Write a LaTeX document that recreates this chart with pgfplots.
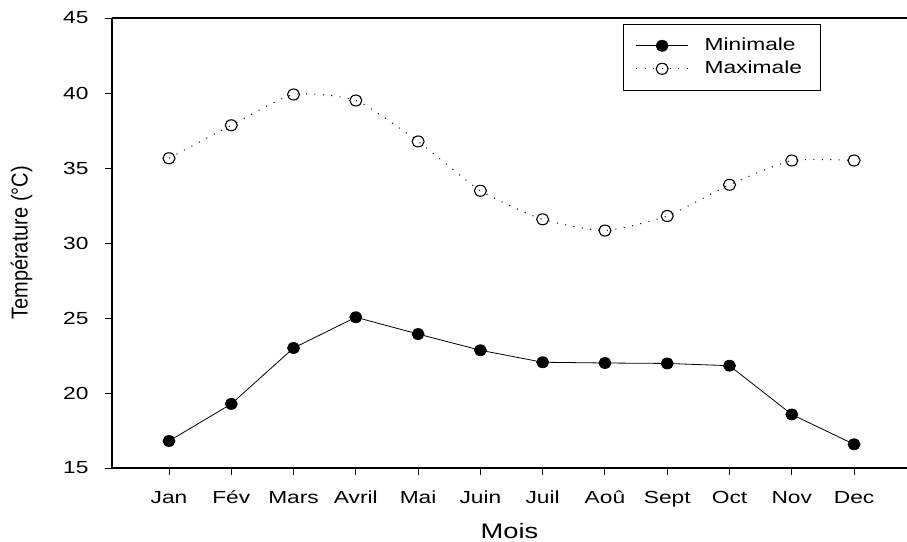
\documentclass[border=0pt]{standalone}
\usepackage{fontspec}
\setmainfont{Liberation Sans}
\newfontfamily\hf[FakeStretch=1.3]{Liberation Sans}
\usepackage{pgfplots}
\pgfplotsset{compat=1.18}
\begin{document}
\begin{tikzpicture}[x=1bp,y=1bp]
\begin{axis}[
  at={(0,0)}, anchor=south west,
  scale only axis, width=795bp, height=450bp,
  xmin=-0.915, xmax=11.85, ymin=15, ymax=45,
  axis x line=box, axis y line*=left,
  axis line style={line width=1.2pt, black},
  xtick={0,...,11},
  xticklabels={Jan,Fév,Mars,Avril,Mai,Juin,Juil,Aoû,Sept,Oct,Nov,Dec},
  ytick={15,20,...,45},
  tick align=outside, major tick length=7bp,
  tick style={line width=0.9pt, black},
  xtick pos=bottom, ytick pos=left,
  /pgf/number format/assume math mode=true,
  tick label style={font=\hf\fontsize{17.5bp}{20bp}\selectfont},
  xticklabel style={yshift=-12bp, text height=13bp, text depth=4bp},
  yticklabel style={xshift=-13bp},
  xlabel={\hf\fontsize{21bp}{23bp}\selectfont Mois},
  ylabel={\fontsize{20bp}{22bp}\selectfont\scalebox{1}[1.15]{Température (°C)}},
  xlabel style={yshift=-9bp},
  ylabel style={yshift=24bp},
  legend cell align=left,
  legend style={at={(rel axis cs:0.643,0.987)}, anchor=north west,
    draw=black, line width=0.9pt, font=\hf\fontsize{17.5bp}{19bp}\selectfont,
    inner xsep=12bp, inner ysep=10bp, row sep=0bp,
    nodes={inner xsep=6bp, inner ysep=3bp, text height=13bp, text depth=4bp}},
  legend image code/.code={
    \draw[#1] (0bp,0bp) -- (52bp,0bp);
    \draw[#1, solid] plot coordinates {(26bp,0bp)};
    \path (62bp,0bp);
  },
]
\addplot[black, line width=0.8pt, mark=*, mark size=5.5pt, mark options={fill=black, xscale=1.1}]
coordinates {(0,16.8)(1,19.27)(2,23.0)(3,25.05)(4,23.93)(5,22.85)(6,22.05)(7,22.0)(8,21.97)(9,21.82)(10,18.57)(11,16.58)};
\addlegendentry{Minimale}
\addplot[black, line width=1pt, dash pattern=on 1pt off 7.5pt, smooth, tension=0.35, mark=o, mark size=5.5pt, mark options={solid, fill=white, line width=1.1pt, xscale=1.1}]
coordinates {(0,35.65)(1,37.85)(2,39.9)(3,39.5)(4,36.77)(5,33.48)(6,31.58)(7,30.83)(8,31.8)(9,33.88)(10,35.5)(11,35.5)};
\addlegendentry{Maximale}
\end{axis}
\pgfresetboundingbox
\path[use as bounding box] (-112bp,-74bp) rectangle (795bp,468bp);
\end{tikzpicture}
\end{document}
